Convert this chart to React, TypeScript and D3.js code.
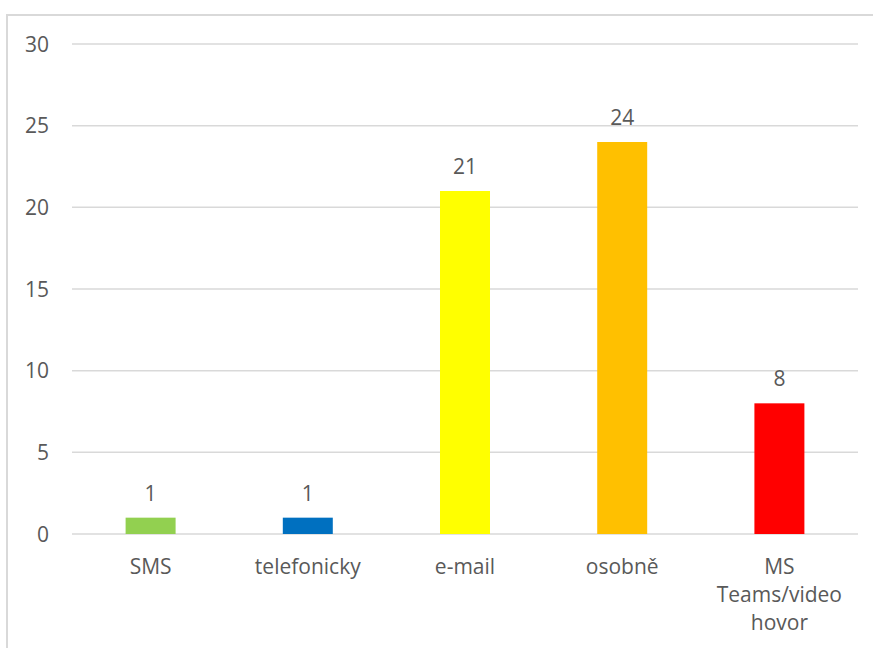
import React from "react";
import * as d3 from "d3";

const categories = ["SMS", "telefonicky", "e-mail", "osobně", "MS Teams/video hovor"];
const categoryLines = [["SMS"], ["telefonicky"], ["e-mail"], ["osobně"], ["MS", "Teams/video", "hovor"]];
const values = [1, 1, 21, 24, 8];
const barColors = ["#92D050", "#0070C0", "#FFFF00", "#FFC000", "#FF0000"];
const yTicks = [0, 5, 10, 15, 20, 25, 30];

const W = 873;
const H = 648;
const plotLeft = 72;
const plotRight = 858;
const plotTop = 44;
const plotBottom = 534;
const FONT = "'Open Sans', 'Liberation Sans', sans-serif";
const TEXT = "#595959";
const GRID = "#D9D9D9";
const FS = 21;

export default function App() {
  const x = d3
    .scaleBand<string>()
    .domain(categories)
    .range([plotLeft, plotRight])
    .paddingInner(0.682)
    .paddingOuter(0.341);
  const y = d3.scaleLinear().domain([0, 30]).range([plotBottom, plotTop]);

  return (
    <svg
      width={W}
      height={H}
      style={{ position: "absolute", left: 0, top: 0, background: "#fff" }}
      fontFamily={FONT}
    >
      <rect x={0} y={0} width={W} height={H} fill="#fff" />
      {/* chart border */}
      <rect x={7} y={15} width={W + 20} height={H + 20} fill="none" stroke={GRID} strokeWidth={2} />
      {/* gridlines */}
      {yTicks.map((t) => (
        <line
          key={t}
          x1={plotLeft}
          x2={plotRight}
          y1={y(t)}
          y2={y(t)}
          stroke={GRID}
          strokeWidth={1.5}
        />
      ))}
      {/* y tick labels */}
      {yTicks.map((t) => (
        <text
          key={"t" + t}
          x={49}
          y={y(t) + 7.5}
          textAnchor="end"
          fontSize={FS}
          fill={TEXT}
        >
          {t}
        </text>
      ))}
      {/* bars */}
      {categories.map((c, i) => (
        <rect
          key={c}
          x={x(c)}
          y={y(values[i])}
          width={x.bandwidth()}
          height={y(0) - y(values[i])}
          fill={barColors[i]}
        />
      ))}
      {/* data labels */}
      {categories.map((c, i) => (
        <text
          key={"v" + c}
          x={(x(c) as number) + x.bandwidth() / 2}
          y={y(values[i]) - 17}
          textAnchor="middle"
          fontSize={FS}
          fill={TEXT}
        >
          {values[i]}
        </text>
      ))}
      {/* category labels */}
      {categories.map((c, i) => (
        <text
          key={"c" + c}
          x={(x(c) as number) + x.bandwidth() / 2}
          y={573.5}
          textAnchor="middle"
          fontSize={FS}
          fill={TEXT}
        >
          {categoryLines[i].map((line, j) => (
            <tspan key={j} x={(x(c) as number) + x.bandwidth() / 2} dy={j === 0 ? 0 : 28.3}>
              {line}
            </tspan>
          ))}
        </text>
      ))}
    </svg>
  );
}
